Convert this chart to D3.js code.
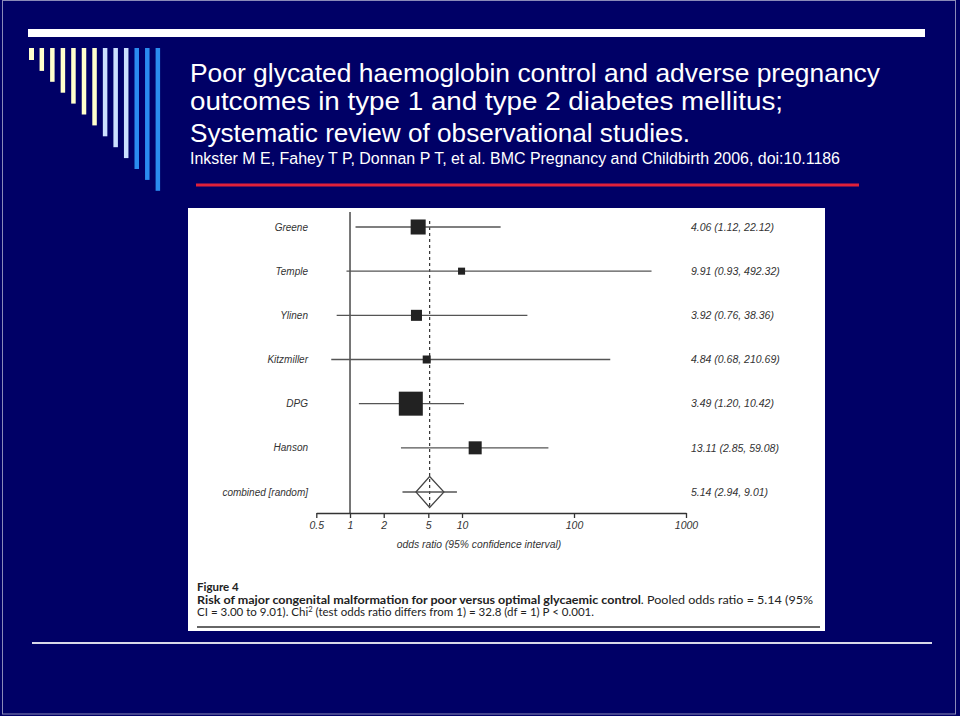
<!DOCTYPE html>
<html>
<head>
<meta charset="utf-8">
<script src="https://cdn.jsdelivr.net/npm/d3@7"></script>
<style>
  html, body { margin: 0; padding: 0; background: #000066; }
  svg { display: block; }
</style>
</head>
<body>
<svg id="chart" width="960" height="716"></svg>
<script>
// ---------------- DATA ----------------
const titleLines = [
  "Poor glycated haemoglobin control and adverse pregnancy",
  "outcomes in type 1 and type 2 diabetes mellitus;",
  "Systematic review of observational studies."
];
const citation = "Inkster M E, Fahey T P, Donnan P T, et al. BMC Pregnancy and Childbirth 2006, doi:10.1186";

const studies   = ["Greene", "Temple", "Ylinen", "Kitzmiller", "DPG", "Hanson"];
const oddsRatio = [4.06, 9.91, 3.92, 4.84, 3.49, 13.11];
const ciLow     = [1.12, 0.93, 0.76, 0.68, 1.20, 2.85];
const ciHigh    = [22.12, 492.32, 38.36, 210.69, 10.42, 59.08];
const weights   = [14.1, 3.1, 7.6, 4.0, 36.0, 10.6];

const pooledLabel = "combined [random]";
const pooledOR = 5.14, pooledLow = 2.94, pooledHigh = 9.01;
const diamondLow = 3.88, diamondHigh = 6.90;

const axisTicks = [0.5, 1, 2, 5, 10, 100, 1000];
const axisTitle = "odds ratio (95% confidence interval)";

const captionHead = "Figure 4";
const captionBold = "Risk of major congenital malformation for poor versus optimal glycaemic control";
const captionRest1 = ". Pooled odds ratio = 5.14 (95%";
const captionLine3a = "CI = 3.00 to 9.01). Chi";
const captionLine3sup = "2";
const captionLine3b = " (test odds ratio differs from 1) = 32.8 (df = 1) P < 0.001.";

// ---------------- DRAW ----------------
const svg = d3.select("#chart");
const NAVY = "#000066";

svg.append("rect").attr("width", 960).attr("height", 716).attr("fill", NAVY);
svg.append("rect").attr("x", 2.5).attr("y", 0.5).attr("width", 953).attr("height", 713.5)
  .attr("fill", "none").attr("stroke", "#8a8ab8").attr("stroke-width", 1);

// top white bar
svg.append("rect").attr("x", 28).attr("y", 29).attr("width", 897).attr("height", 8).attr("fill", "#ffffff");

// decorative vertical bars
const barColors = d3.range(13).map(i => i < 7 ? "#ffffcc" : (i < 10 ? "#cce0ff" : "#2a8cf0"));
svg.append("g").selectAll("rect").data(barColors).join("rect")
  .attr("x", (d, i) => 29 + i * 10.55)
  .attr("y", 48)
  .attr("width", (d, i) => i === 0 ? 5 : 4.5)
  .attr("height", (d, i) => 12 + i * 10.9)
  .attr("fill", d => d);

// titles
const tg = svg.append("g").attr("font-family", "'Liberation Sans', Arial, sans-serif").attr("fill", "#ffffff");
const titleY = [82, 110, 142];
const titleW = [690, 593, 500];
tg.selectAll("text.t").data(titleLines).join("text").attr("class", "t")
  .attr("x", 190).attr("y", (d, i) => titleY[i]).attr("font-size", 26)
  .attr("textLength", (d, i) => titleW[i]).attr("lengthAdjust", "spacingAndGlyphs")
  .text(d => d);
tg.append("text").attr("x", 190).attr("y", 164).attr("font-size", 16)
  .attr("textLength", 650).attr("lengthAdjust", "spacingAndGlyphs").text(citation);

// red line
svg.append("rect").attr("x", 196).attr("y", 183.5).attr("width", 663).attr("height", 3).attr("fill", "#e0203a");

// bottom white line
svg.append("rect").attr("x", 32).attr("y", 642).attr("width", 900).attr("height", 2).attr("fill", "#d8d8e8");

// figure panel
svg.append("rect").attr("x", 188).attr("y", 208).attr("width", 637).attr("height", 423).attr("fill", "#ffffff");

const x = d3.scaleLog().domain([0.5, 1000]).range([316.3, 686]);
const rows = studies.concat([pooledLabel]);
const y = d3.scalePoint().domain(rows).range([227, 492]);
const side = d3.scaleSqrt().domain([0, d3.max(weights)]).range([0, 24]);

const plot = svg.append("g").attr("font-family", "'Liberation Sans', Arial, sans-serif");
const fmt = d3.format(".2f");

// null line at OR=1
plot.append("line").attr("x1", x(1)).attr("x2", x(1)).attr("y1", 212).attr("y2", 513)
  .attr("stroke", "#555").attr("stroke-width", 1.6);

// dashed pooled line
plot.append("line").attr("x1", x(pooledOR)).attr("x2", x(pooledOR)).attr("y1", 221).attr("y2", 507)
  .attr("stroke", "#333").attr("stroke-width", 1.2).attr("stroke-dasharray", "3,3");

const sData = studies.map((s, i) => ({ s, or: oddsRatio[i], lo: ciLow[i], hi: ciHigh[i], w: weights[i] }));

// CI lines
plot.append("g").selectAll("line").data(sData).join("line")
  .attr("x1", d => x(d.lo)).attr("x2", d => x(d.hi))
  .attr("y1", d => y(d.s)).attr("y2", d => y(d.s))
  .attr("stroke", "#555").attr("stroke-width", 1.4);

// boxes
plot.append("g").selectAll("rect").data(sData).join("rect")
  .attr("x", d => x(d.or) - side(d.w) / 2)
  .attr("y", d => y(d.s) - side(d.w) / 2)
  .attr("width", d => side(d.w)).attr("height", d => side(d.w))
  .attr("fill", "#222");

// pooled
const py = y(pooledLabel);
plot.append("line").attr("x1", x(pooledLow)).attr("x2", x(pooledHigh)).attr("y1", py).attr("y2", py)
  .attr("stroke", "#555").attr("stroke-width", 1.4);
plot.append("path")
  .attr("d", `M${x(diamondLow)},${py} L${x(pooledOR)},${py - 15.5} L${x(diamondHigh)},${py} L${x(pooledOR)},${py + 15.5} Z`)
  .attr("fill", "none").attr("stroke", "#444").attr("stroke-width", 1.2);

// left labels
plot.append("g").selectAll("text").data(rows).join("text")
  .attr("x", 308).attr("y", d => y(d)).attr("dy", "0.35em")
  .attr("text-anchor", "end").attr("font-size", 10).attr("font-style", "italic").attr("fill", "#333")
  .text(d => d);

// right labels
const rightLabels = sData.map(d => `${fmt(d.or)} (${fmt(d.lo)}, ${fmt(d.hi)})`)
  .concat([`${fmt(pooledOR)} (${fmt(pooledLow)}, ${fmt(pooledHigh)})`]);
plot.append("g").selectAll("text").data(rightLabels).join("text")
  .attr("x", 691).attr("y", (d, i) => y(rows[i])).attr("dy", "0.35em")
  .attr("font-size", 10.5).attr("font-style", "italic").attr("fill", "#333")
  .text(d => d);

// axis
const axis = plot.append("g").attr("transform", "translate(0,513)")
  .call(d3.axisBottom(x).tickValues(axisTicks).tickFormat(d => d).tickSize(5).tickSizeOuter(0).tickPadding(4));
axis.select(".domain").attr("stroke", "#333").attr("stroke-width", 1.5);
axis.selectAll(".tick line").attr("stroke", "#333").attr("stroke-width", 1.3);
axis.selectAll(".tick text").attr("font-size", 10.5).attr("font-style", "italic").attr("fill", "#333")
  .attr("font-family", "'Liberation Sans', Arial, sans-serif");

plot.append("text").attr("x", 479).attr("y", 548).attr("text-anchor", "middle")
  .attr("font-size", 10.3).attr("font-style", "italic").attr("fill", "#333").text(axisTitle);

// caption
const cap = svg.append("g").attr("font-family", "Lato, 'Open Sans', sans-serif").attr("fill", "#222");
cap.append("text").attr("x", 197).attr("y", 591).attr("font-size", 11.5).attr("font-weight", "bold").text(captionHead);
const l2 = cap.append("text").attr("x", 197).attr("y", 603.5).attr("font-size", 11.5);
l2.append("tspan").attr("font-weight", "bold").text(captionBold);
l2.append("tspan").text(captionRest1);
const l3 = cap.append("text").attr("x", 197).attr("y", 616).attr("font-size", 11.5);
l3.append("tspan").text(captionLine3a);
l3.append("tspan").attr("font-size", 7.5).attr("dy", -4).text(captionLine3sup);
l3.append("tspan").attr("dy", 4).text(captionLine3b);
[[l2, 616], [l3, 397]].forEach(([t, w]) => {
  const len = t.node().getComputedTextLength();
  if (len > 0) t.attr("textLength", w).attr("lengthAdjust", "spacingAndGlyphs");
});

svg.append("rect").attr("x", 197).attr("y", 626).attr("width", 623).attr("height", 2).attr("fill", "#666");
</script>
</body>
</html>
